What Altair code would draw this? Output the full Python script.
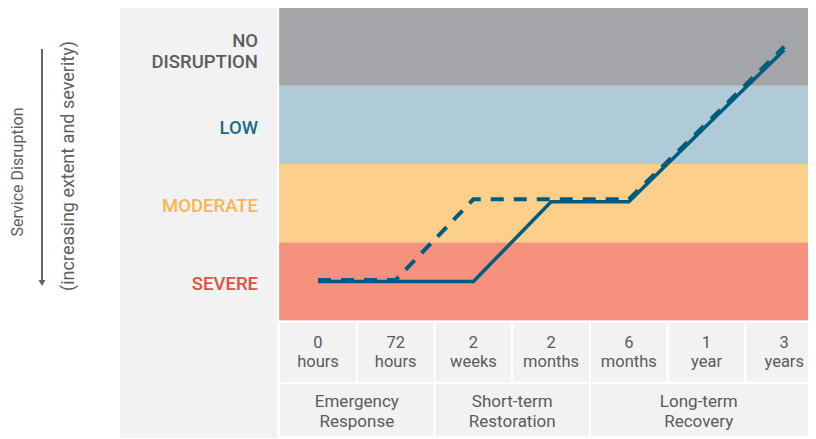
import altair as alt
import pandas as pd

# ---------------- data ----------------
levels = ["SEVERE", "MODERATE", "LOW", "NO DISRUPTION"]
level_values = [1, 2, 3, 4]
level_labels = ["SEVERE", "MODERATE", "LOW", "NO\nDISRUPTION"]

time_labels = ["0\nhours", "72\nhours", "2\nweeks", "2\nmonths", "6\nmonths", "1\nyear", "3\nyears"]
time_index = [0, 1, 2, 3, 4, 5, 6]

solid_values = [1.0, 1.0, 1.0, 2.02, 2.02, 2.99, 3.96]
dashed_values = [1.02, 1.02, 2.05, 2.05, 2.05, 3.02, 4.0]

phase_labels = ["Emergency\nResponse", "Short-term\nRestoration", "Long-term\nRecovery"]
phase_start = [0, 2, 4]
phase_end = [1, 3, 6]
phase_label_at = [0.5, 2.5, 4.9]

# ---------------- styles ----------------
band_colors = ["#f5917d", "#fccf8b", "#aecbd7", "#a4a5a8"]
label_colors = ["#e84d3d", "#f8b74a", "#1d6a8b", "#5b5c5f"]
line_color = "#005c7e"
text_grey = "#5a5a5a"
cell_grey = "#f2f2f2"
FONT = "Roboto"

X = alt.Scale(domain=[-3.9897, 6.3063], nice=False, zero=False)
Y = alt.Scale(domain=[-1.0128, 4.4952], nice=False, zero=False)

ROW1_TOP, ROW_SPLIT, ROW2_BOT = 0.4863, -0.2971, -0.9936
ROW1_TXT, ROW2_TXT = 0.2077, -0.540

one = pd.DataFrame({"a": [0]})

# left label panel
panel = alt.Chart(one).mark_rect(color=cell_grey).encode(
    x=alt.value(112), x2=alt.value(269), y=alt.value(-1), y2=alt.value(430)
)

# severity bands
df_bands = pd.DataFrame({"level": levels, "v": level_values})
bands = alt.Chart(df_bands).transform_calculate(
    lo="datum.v - 0.5", hi="datum.v + 0.5", x0="-0.5", x1="6.5"
).mark_rect(clip=True).encode(
    x=alt.X("x0:Q", scale=X, axis=None),
    x2="x1:Q",
    y=alt.Y("lo:Q", scale=Y, axis=None),
    y2="hi:Q",
    fill=alt.Fill("level:N", scale=alt.Scale(domain=levels, range=band_colors), legend=None),
)

df_lab = pd.DataFrame({"level": levels, "v": level_values, "label": level_labels})
label_color = alt.Color("level:N", scale=alt.Scale(domain=levels, range=label_colors), legend=None)
labels_single = alt.Chart(df_lab).transform_filter(
    "indexof(datum.label, '\\n') < 0"
).mark_text(
    align="right", baseline="middle", dy=3, fontSize=18.5, fontWeight=500, font=FONT
).encode(
    x=alt.value(250),
    y=alt.Y("v:Q", scale=Y, axis=None),
    text="label:N",
    color=label_color,
)
labels_multi = alt.Chart(df_lab).transform_filter(
    "indexof(datum.label, '\\n') >= 0"
).mark_text(
    align="right", baseline="middle", dy=-6, fontSize=18.5, fontWeight=500, font=FONT,
    lineBreak="\n", lineHeight=21
).encode(
    x=alt.value(250),
    y=alt.Y("v:Q", scale=Y, axis=None),
    text="label:N",
    color=label_color,
)

# time cells
df_time = pd.DataFrame({"i": time_index, "label": time_labels})
cells = alt.Chart(df_time).transform_calculate(
    x0="datum.i - 0.5", x1="datum.i + 0.5", top=str(ROW1_TOP), bot=str(ROW_SPLIT)
).mark_rect(fill=cell_grey, stroke="white", strokeWidth=2, clip=True).encode(
    x=alt.X("x0:Q", scale=X, axis=None),
    x2="x1:Q",
    y=alt.Y("top:Q", scale=Y, axis=None),
    y2="bot:Q",
)
time_text = alt.Chart(df_time).transform_calculate(
    ym=str(ROW1_TXT)
).mark_text(
    align="center", baseline="middle", fontSize=16.5, font=FONT, color=text_grey,
    lineBreak="\n", lineHeight=19
).encode(
    x=alt.X("i:Q", scale=X, axis=None),
    y=alt.Y("ym:Q", scale=Y, axis=None),
    text="label:N",
)

# phase cells
df_phase = pd.DataFrame({"label": phase_labels, "s": phase_start, "e": phase_end, "c": phase_label_at})
phase_cells = alt.Chart(df_phase).transform_calculate(
    x0="datum.s - 0.5", x1="datum.e + 0.5", top=str(ROW_SPLIT), bot=str(ROW2_BOT)
).mark_rect(fill=cell_grey, stroke="white", strokeWidth=2, clip=True).encode(
    x=alt.X("x0:Q", scale=X, axis=None),
    x2="x1:Q",
    y=alt.Y("top:Q", scale=Y, axis=None),
    y2="bot:Q",
)
phase_text = alt.Chart(df_phase).transform_calculate(
    ym=str(ROW2_TXT)
).mark_text(
    align="center", baseline="middle", fontSize=17, font=FONT, color=text_grey,
    lineBreak="\n", lineHeight=20
).encode(
    x=alt.X("c:Q", scale=X, axis=None),
    y=alt.Y("ym:Q", scale=Y, axis=None),
    text="label:N",
)

# lines
df_solid = pd.DataFrame({"i": time_index, "v": solid_values})
df_dash = pd.DataFrame({"i": time_index, "v": dashed_values})
solid = alt.Chart(df_solid).mark_line(color=line_color, strokeWidth=3.5, strokeJoin="miter").encode(
    x=alt.X("i:Q", scale=X, axis=None),
    y=alt.Y("v:Q", scale=Y, axis=None),
    order="i:Q",
)
dashed = alt.Chart(df_dash).mark_line(
    color=line_color, strokeWidth=4, strokeDash=[13, 10], strokeCap="butt"
).encode(
    x=alt.X("i:Q", scale=X, axis=None),
    y=alt.Y("v:Q", scale=Y, axis=None),
    order="i:Q",
)

# vertical axis title and arrow
title1 = alt.Chart(one).mark_text(
    angle=270, align="center", baseline="middle", fontSize=16, font=FONT,
    color="#606060", text="Service Disruption"
).encode(x=alt.value(10), y=alt.value(164))
title2 = alt.Chart(one).mark_text(
    angle=270, align="center", baseline="middle", fontSize=18, font=FONT,
    color="#606060", text="(increasing extent and severity)"
).encode(x=alt.value(61), y=alt.value(158))
arrow = alt.Chart(one).mark_rule(color="#666666", strokeWidth=2).encode(
    x=alt.value(34), y=alt.value(41), y2=alt.value(273)
)
arrow_head = alt.Chart(one).mark_point(
    shape="triangle-down", filled=True, size=50, color="#666666", opacity=1
).encode(x=alt.value(34), y=alt.value(275))

chart = alt.layer(
    panel, bands, labels_single, labels_multi, cells, time_text, phase_cells, phase_text,
    solid, dashed, title1, title2, arrow, arrow_head
).properties(
    width=800, height=431, padding=0, autosize="none", background="white"
).configure_view(stroke=None)

chart.save("out.html", embed_options={"renderer": "svg", "actions": False})
